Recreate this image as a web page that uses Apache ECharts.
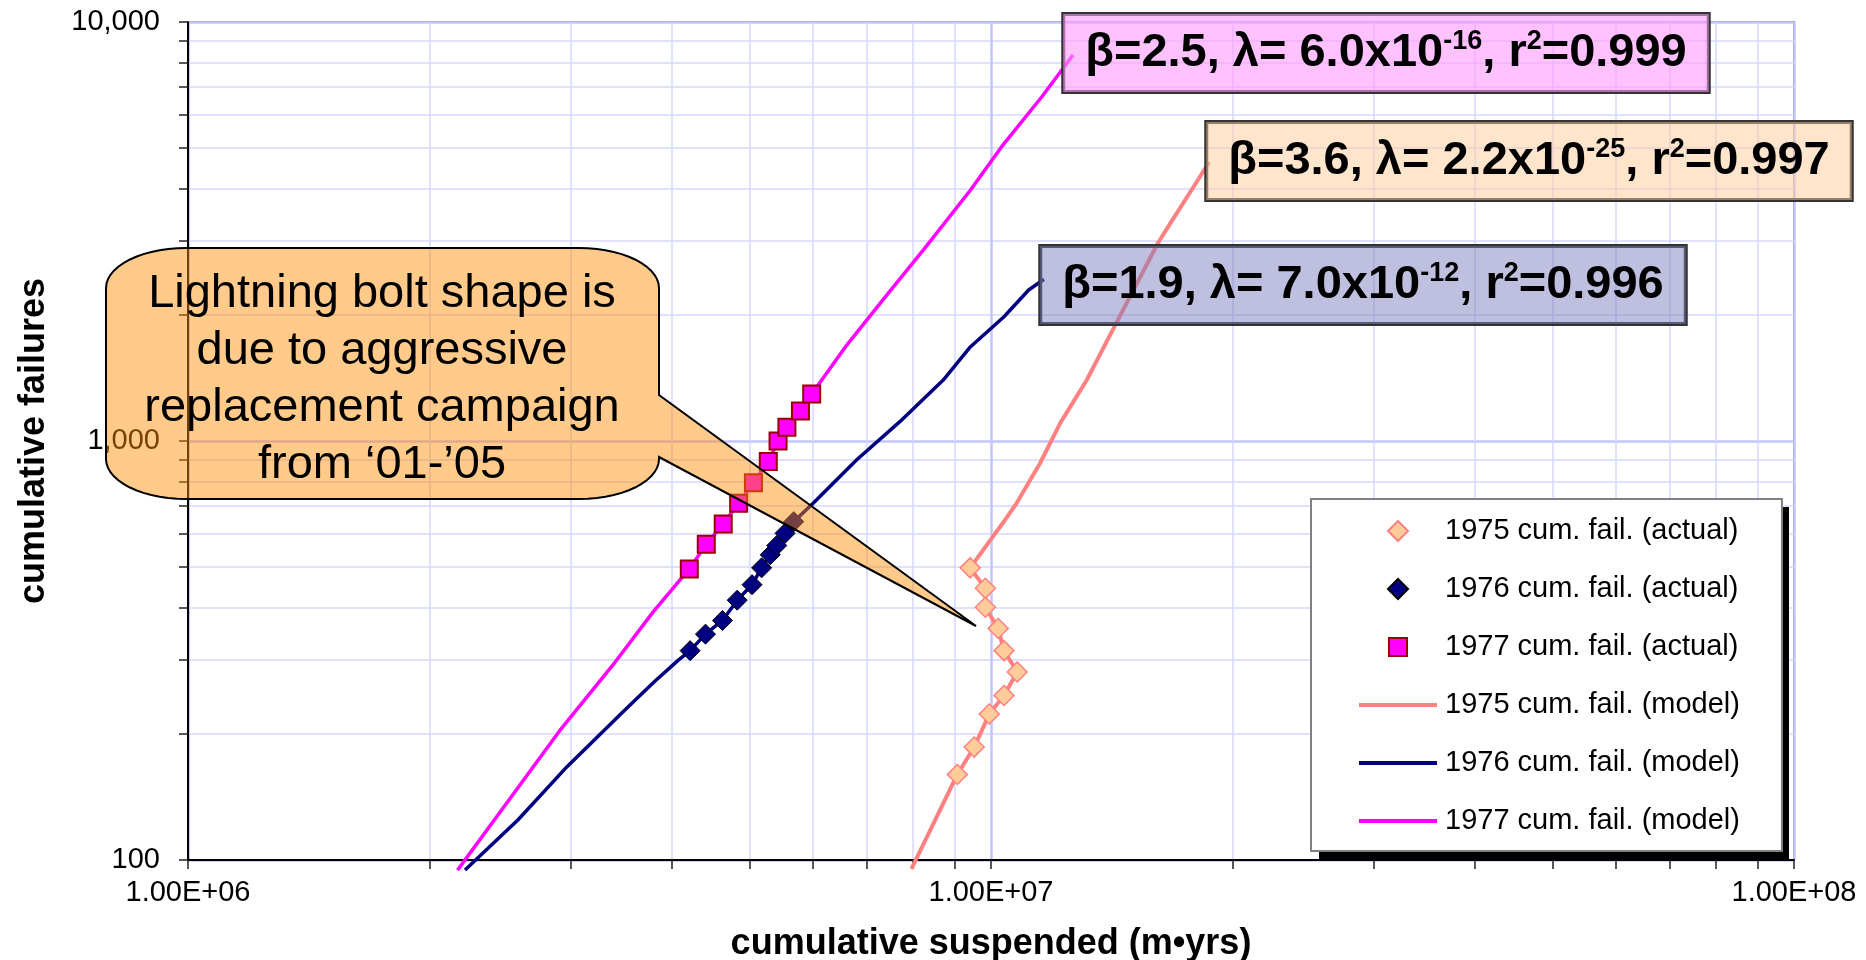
<!DOCTYPE html>
<html>
<head>
<meta charset="utf-8">
<script src="https://cdn.jsdelivr.net/npm/echarts@6/dist/echarts.min.js"></script>
<style>
html,body{margin:0;padding:0;background:#fff;}
#chart{width:1866px;height:960px;}
</style>
</head>
<body>
<div id="chart"></div>
<script>
// ---------- data ----------
const xTickValues = [1e6, 1e7, 1e8];
const xTickLabels = ['1.00E+06', '1.00E+07', '1.00E+08'];
const yTickValues = [100, 1000, 10000];
const yTickLabels = ['100', '1,000', '10,000'];

const seriesNames = [
  '1975 cum. fail. (actual)', '1976 cum. fail. (actual)', '1977 cum. fail. (actual)',
  '1975 cum. fail. (model)', '1976 cum. fail. (model)', '1977 cum. fail. (model)'
];

const act1975X = [9.42e6, 9.84e6, 9.84e6, 1.021e7, 1.038e7, 1.078e7, 1.038e7, 9.95e6, 9.53e6, 9.08e6];
const act1975Y = [498, 445, 401, 357, 316, 281, 247, 223, 186, 160];

const act1976X = [4.22e6, 4.41e6, 4.63e6, 4.83e6, 5.04e6, 5.18e6, 5.31e6, 5.41e6, 5.54e6, 5.68e6];
const act1976Y = [316, 346, 373, 417, 454, 498, 535, 563, 602, 642];

const act1977X = [4.21e6, 4.42e6, 4.64e6, 4.85e6, 5.06e6, 5.28e6, 5.43e6, 5.57e6, 5.79e6, 5.98e6];
const act1977Y = [495, 567, 634, 710, 795, 893, 1000, 1078, 1179, 1295];

const mod1975X = [7.96e6, 9.08e6, 9.53e6, 9.95e6, 1.038e7, 1.078e7, 1.038e7, 1.021e7, 9.84e6, 9.84e6, 9.42e6,
                  1.041e7, 1.076e7, 1.151e7, 1.219e7, 1.316e7, 1.439e7, 1.614e7, 1.676e7, 1.81e7, 1.869e7];
const mod1975Y = [95.2, 160, 186, 223, 247, 281, 316, 357, 401, 445, 498,
                  648, 710, 885, 1102, 1398, 1945, 2969, 3330, 4197, 4634];

const mod1976X = [2.213e6, 2.575e6, 2.965e6, 3.50e6, 3.805e6, 4.08e6, 4.22e6, 4.41e6, 4.63e6, 4.83e6, 5.04e6, 5.18e6,
                  5.31e6, 5.41e6, 5.54e6, 5.68e6, 6.005e6, 6.80e6, 7.70e6, 8.72e6, 9.43e6, 1.038e7, 1.114e7, 1.164e7];
const mod1976Y = [94.6, 124.6, 167, 228, 266, 300, 316, 346, 373, 417, 454, 498,
                  535, 563, 602, 642, 710, 901, 1112, 1398, 1679, 1980, 2293, 2432];

const mod1977X = [2.166e6, 2.53e6, 2.9e6, 3.4e6, 3.8e6, 4.21e6, 4.42e6, 4.64e6, 4.85e6, 5.06e6, 5.28e6,
                  5.43e6, 5.57e6, 5.79e6, 5.98e6, 6.59e6, 7.39e6, 8.30e6, 9.43e6, 1.031e7, 1.157e7, 1.265e7];
const mod1977Y = [94.6, 142, 203, 296, 392, 495, 567, 634, 710, 795, 893,
                  1000, 1078, 1179, 1295, 1679, 2210, 2909, 3972, 5039, 6631, 8341];

const fitTexts = [
  'β=2.5, λ= 6.0x10{sup|-16}, r{sup|2}=0.999',
  'β=3.6, λ= 2.2x10{sup|-25}, r{sup|2}=0.997',
  'β=1.9, λ= 7.0x10{sup|-12}, r{sup|2}=0.996'
];
const calloutLines = ['Lightning bolt shape is', 'due to aggressive', 'replacement campaign', 'from \u201801-\u201905'];

// ---------- chart ----------
const FONT = '"Liberation Sans", Arial, sans-serif';
const zip = (xs, ys) => xs.map((x, i) => [x, ys[i]]);
const findLabel = (vals, labels, v) => {
  const i = vals.findIndex(t => Math.abs(Math.log10(t) - Math.log10(v)) < 1e-6);
  return i >= 0 ? labels[i] : '';
};

// callout bubble outline (rounded box + wedge tail), built as polygon points
function bubblePoints(L, T, R, B, rx, ry, tailTop, tailBot, tip) {
  const pts = [];
  const arc = (cx, cy, a0, a1) => {
    const n = 14;
    for (let i = 0; i <= n; i++) {
      const a = a0 + (a1 - a0) * i / n;
      pts.push([cx + rx * Math.cos(a), cy + ry * Math.sin(a)]);
    }
  };
  arc(L + rx, T + ry, Math.PI, 1.5 * Math.PI);
  arc(R - rx, T + ry, 1.5 * Math.PI, 2 * Math.PI);
  pts.push([R, tailTop]); pts.push(tip); pts.push([R, tailBot]);
  arc(R - rx, B - ry, 0, 0.5 * Math.PI);
  arc(L + rx, B - ry, 0.5 * Math.PI, Math.PI);
  return pts;
}

const chart = echarts.init(document.getElementById('chart'), null, {renderer: 'canvas'});

const axisCommon = {
  type: 'log', logBase: 10,
  axisLine: {show: true, lineStyle: {color: '#000', width: 2}},
  axisTick: {show: true, inside: false, length: 9, lineStyle: {color: '#222', width: 1.5}},
  minorTick: {show: true, splitNumber: 9, length: 9, lineStyle: {color: '#222', width: 1.5}},
  splitLine: {show: true, lineStyle: {color: '#C4C4FF', width: 2.5}},
  minorSplitLine: {show: true, lineStyle: {color: '#D6D6FF', width: 1.5}},
  nameTextStyle: {fontFamily: FONT, fontSize: 36, fontWeight: 'bold', color: '#000'}
};

const scatterBase = {type: 'scatter', z: 5, clip: false};
const lineBase = {type: 'line', symbol: 'none', showSymbol: false, clip: false, z: 3, smooth: false};

const supStyle = {font: 'bold 27px ' + FONT, lineHeight: 34, verticalAlign: 'top', fill: '#000'};
function fitBox(text, x, y, bg) {
  return {type: 'text', z: 90, x: x, y: y, style: {
    text: text, font: 'bold 47px ' + FONT, fill: '#000',
    align: 'center', verticalAlign: 'middle', lineHeight: 50,
    backgroundColor: bg, borderColor: '#333', borderWidth: 2, padding: [14, 22],
    rich: {sup: supStyle}}};
}

// legend icons drawn inside a full 78x20 frame so they are not stretched
const ICON_DIAMOND = 'path://M0,0M78,20M39,0L49,10L39,20L29,10Z';
const ICON_SQUARE = 'path://M0,0M78,20M30,1L48,1L48,19L30,19Z';
const ICON_LINE = 'path://M0,0M78,20M0,8L78,8L78,12L0,12Z';

const option = {
  animation: false,
  backgroundColor: '#fff',
  grid: {left: 188, top: 22, width: 1606, height: 838, show: true, borderColor: '#808080', borderWidth: 2,
         backgroundColor: '#fff', containLabel: false, outerBoundsMode: 'none'},
  xAxis: Object.assign({}, axisCommon, {
    min: 1e6, max: 1e8,
    name: 'cumulative suspended (m\u2022yrs)', nameLocation: 'middle', nameGap: 66,
    axisLabel: {show: true, margin: 18, fontFamily: FONT, fontSize: 29, color: '#000',
                showMinLabel: true, showMaxLabel: true,
                formatter: v => findLabel(xTickValues, xTickLabels, v)}
  }),
  yAxis: Object.assign({}, axisCommon, {
    min: 100, max: 10000,
    name: 'cumulative failures', nameLocation: 'middle', nameGap: 136,
    axisLabel: {show: true, margin: 28, fontFamily: FONT, fontSize: 29, color: '#000',
                showMinLabel: true, showMaxLabel: true,
                formatter: v => findLabel(yTickValues, yTickLabels, v)}
  }),
  legend: {
    orient: 'vertical', left: 1311, top: 499, padding: [17, 42, 15, 47],
    itemWidth: 78, itemHeight: 20, itemGap: 28, z: 6,
    backgroundColor: '#fff', borderColor: '#808080', borderWidth: 2,
    selectedMode: false,
    textStyle: {fontFamily: FONT, fontSize: 29, color: '#000', lineHeight: 30, padding: [0, 0, 0, 3]},
    data: [
      {name: seriesNames[0], icon: ICON_DIAMOND},
      {name: seriesNames[1], icon: ICON_DIAMOND},
      {name: seriesNames[2], icon: ICON_SQUARE},
      {name: seriesNames[3], icon: ICON_LINE},
      {name: seriesNames[4], icon: ICON_LINE},
      {name: seriesNames[5], icon: ICON_LINE}
    ]
  },
  series: [
    Object.assign({}, scatterBase, {name: seriesNames[0], data: zip(act1975X, act1975Y), symbol: 'diamond', symbolSize: 20,
      itemStyle: {color: '#FFCC99', borderColor: '#FF8080', borderWidth: 1.5, opacity: 1}}),
    Object.assign({}, scatterBase, {name: seriesNames[1], data: zip(act1976X, act1976Y), symbol: 'diamond', symbolSize: 20,
      itemStyle: {color: '#000080', borderColor: '#000', borderWidth: 1, opacity: 1}}),
    Object.assign({}, scatterBase, {name: seriesNames[2], data: zip(act1977X, act1977Y), symbol: 'rect', symbolSize: 17,
      itemStyle: {color: '#FF00FF', borderColor: '#990000', borderWidth: 2, opacity: 1}}),
    Object.assign({}, lineBase, {name: seriesNames[3], data: zip(mod1975X, mod1975Y), color: '#FF8080',
      lineStyle: {color: '#FF8080', width: 4}}),
    Object.assign({}, lineBase, {name: seriesNames[4], data: zip(mod1976X, mod1976Y), color: '#000080',
      lineStyle: {color: '#000080', width: 3.5}}),
    Object.assign({}, lineBase, {name: seriesNames[5], data: zip(mod1977X, mod1977Y), color: '#FF00FF',
      lineStyle: {color: '#FF00FF', width: 3.5}})
  ],
  graphic: {
    elements: [
      {type: 'rect', z: 5, shape: {x: 1319, y: 507, width: 470, height: 352}, style: {fill: '#000'}},
      fitBox(fitTexts[0], 1386, 53, 'rgba(255,153,255,0.6)'),
      fitBox(fitTexts[1], 1529, 161, 'rgba(255,204,153,0.5)'),
      fitBox(fitTexts[2], 1363, 285, 'rgba(128,128,192,0.5)'),
      {type: 'polygon', z: 100,
        shape: {points: bubblePoints(106, 248, 659, 499, 80, 40, 395, 457, [976, 626])},
        style: {fill: 'rgba(255,140,0,0.46)', stroke: '#000', lineWidth: 2}},
      {type: 'text', z: 101, x: 382, y: 380, style: {
        text: calloutLines.join('\n'), font: '47px ' + FONT, fill: '#000',
        align: 'center', verticalAlign: 'middle', lineHeight: 57}}
    ]
  }
};
chart.setOption(option);
</script>
</body>
</html>
